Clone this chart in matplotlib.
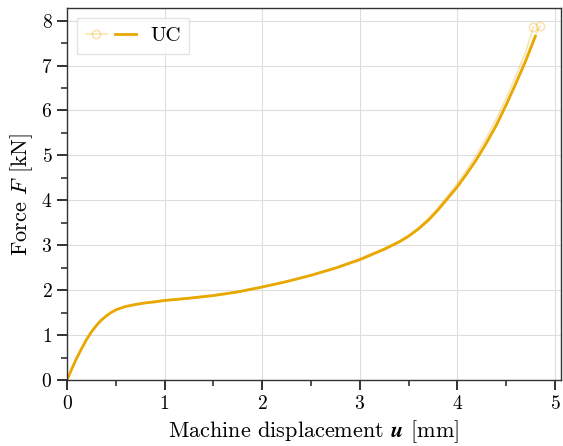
import matplotlib
matplotlib.use("Agg")
import matplotlib.pyplot as plt
from matplotlib.legend_handler import HandlerTuple
from matplotlib.ticker import MultipleLocator

plt.rcParams["font.family"] = "serif"
plt.rcParams["font.serif"] = ["cmr10"]
plt.rcParams["mathtext.fontset"] = "cm"
plt.rcParams["axes.unicode_minus"] = False
plt.rcParams["axes.formatter.use_mathtext"] = True

COLOR = "#E8A800"

# mean curve of the uniaxial compression tests
u_mean = [0.0, 0.05, 0.1, 0.15, 0.2, 0.25, 0.3, 0.35, 0.4, 0.45, 0.5, 0.55, 0.6, 0.7,
          0.8, 0.9, 1.0, 1.25, 1.5, 1.75, 2.0, 2.25, 2.5, 2.75, 3.0, 3.25, 3.4, 3.5, 3.6,
          3.7, 3.8, 3.9, 4.0, 4.1, 4.2, 4.3, 4.4, 4.5, 4.6, 4.7, 4.8]
F_mean = [0.0, 0.25, 0.49, 0.7, 0.9, 1.07, 1.21, 1.33, 1.42, 1.5, 1.56, 1.6, 1.635, 1.68,
          1.715, 1.74, 1.77, 1.82, 1.88, 1.96, 2.07, 2.19, 2.33, 2.49, 2.68, 2.91, 3.07, 3.2,
          3.36, 3.55, 3.78, 4.04, 4.3, 4.6, 4.92, 5.28, 5.67, 6.12, 6.6, 7.1, 7.65]

# individual test runs
u_test1 = [0.0, 0.05, 0.1, 0.15, 0.2, 0.25, 0.3, 0.35, 0.4, 0.45, 0.5, 0.55, 0.6, 0.7,
           0.8, 0.9, 1.0, 1.25, 1.5, 1.75, 2.0, 2.25, 2.5, 2.75, 3.0, 3.25, 3.4, 3.5, 3.6,
           3.7, 3.8, 3.9, 4.0, 4.1, 4.2, 4.3, 4.4, 4.5, 4.6, 4.7, 4.78]
F_test1 = [0.0, 0.26, 0.5, 0.71, 0.91, 1.08, 1.22, 1.34, 1.43, 1.51, 1.57, 1.61, 1.645, 1.69,
           1.72, 1.75, 1.78, 1.83, 1.89, 1.97, 2.08, 2.2, 2.34, 2.5, 2.7, 2.93, 3.09, 3.22,
           3.39, 3.59, 3.83, 4.1, 4.38, 4.69, 5.03, 5.4, 5.81, 6.27, 6.77, 7.3, 7.86]
u_test2 = [0.0, 0.05, 0.1, 0.15, 0.2, 0.25, 0.3, 0.35, 0.4, 0.45, 0.5, 0.55, 0.6, 0.7,
           0.8, 0.9, 1.0, 1.25, 1.5, 1.75, 2.0, 2.25, 2.5, 2.75, 3.0, 3.25, 3.4, 3.5, 3.6,
           3.7, 3.8, 3.9, 4.0, 4.1, 4.2, 4.3, 4.4, 4.5, 4.6, 4.7, 4.78, 4.85]
F_test2 = [0.0, 0.24, 0.48, 0.69, 0.89, 1.06, 1.2, 1.32, 1.41, 1.49, 1.55, 1.59, 1.625, 1.67,
           1.71, 1.73, 1.76, 1.81, 1.87, 1.95, 2.06, 2.18, 2.32, 2.48, 2.66, 2.89, 3.05, 3.19,
           3.35, 3.54, 3.77, 4.03, 4.3, 4.6, 4.93, 5.3, 5.7, 6.15, 6.64, 7.14, 7.6, 7.88]

fig = plt.figure(figsize=(5.63, 4.46), dpi=100)
ax = fig.add_axes([0.119, 0.148, 0.877, 0.834])

for u, F in [(u_test1, F_test1), (u_test2, F_test2)]:
    light, = ax.plot(u, F, color=COLOR, alpha=0.3, lw=1.2, marker="o", ms=6,
                     mfc="none", mew=1.2, markevery=[-1])
solid, = ax.plot(u_mean, F_mean, color=COLOR, lw=2)

ax.set_xlim(0, 5.06)
ax.set_ylim(0, 8.28)
ax.xaxis.set_major_locator(MultipleLocator(1))
ax.xaxis.set_minor_locator(MultipleLocator(0.5))
ax.yaxis.set_major_locator(MultipleLocator(1))
ax.yaxis.set_minor_locator(MultipleLocator(0.5))
ax.grid(True, which="major", color="#dddddd", lw=0.8)
ax.set_axisbelow(True)
for s in ax.spines.values():
    s.set_color("#333333")
    s.set_linewidth(1.0)
ax.tick_params(which="major", direction="out", length=7, width=1.3, color="#222222",
               labelsize=14)
ax.tick_params(which="minor", direction="out", length=4, width=1.1, color="#222222")

ax.set_xlabel(r"Machine displacement $\boldsymbol{u}$ [mm]", fontsize=16)
ax.set_ylabel(r"Force $F$ [kN]", fontsize=16)

leg = ax.legend([(light, solid)], ["UC"], handler_map={tuple: HandlerTuple(ndivide=None)},
                loc="upper left", fontsize=15, fancybox=False, handlelength=2.4,
                handletextpad=0.7, borderpad=0.4)
leg.get_frame().set_edgecolor("#dddddd")

fig.savefig("out.png", dpi=100)
